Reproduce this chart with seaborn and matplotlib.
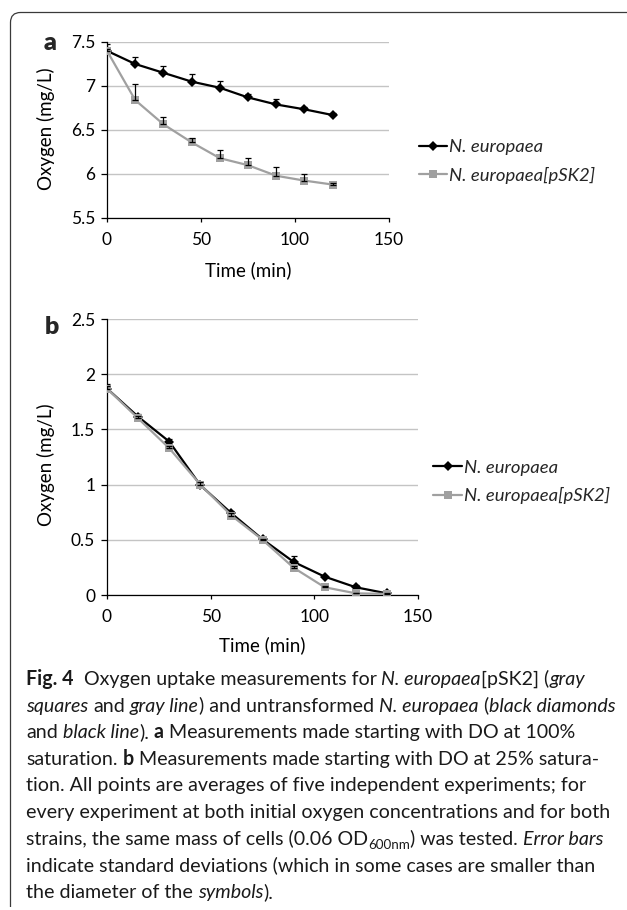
import matplotlib
matplotlib.use("Agg")
import numpy as np
import pandas as pd
import seaborn as sns
import matplotlib.pyplot as plt
from matplotlib.path import Path
from matplotlib.patches import PathPatch
from matplotlib.transforms import IdentityTransform
from matplotlib.ticker import FormatStrFormatter
from matplotlib.lines import Line2D

# ---------------- data ----------------
strains = ["N. europaea", "N. europaea[pSK2]"]

time_a = [0, 15, 30, 45, 60, 75, 90, 105, 120]
wt_a = [7.40, 7.25, 7.15, 7.05, 6.98, 6.87, 6.79, 6.735, 6.67]
wt_a_err = [0.08, 0.08, 0.08, 0.09, 0.08, 0.04, 0.06, 0.03, 0.02]
psk_a = [7.40, 6.84, 6.565, 6.36, 6.18, 6.10, 5.98, 5.925, 5.88]
psk_a_err = [0.02, 0.18, 0.08, 0.05, 0.09, 0.08, 0.10, 0.07, 0.02]

time_b = [0, 15, 30, 45, 60, 75, 90, 105, 120, 135]
wt_b = [1.87, 1.615, 1.39, 0.995, 0.74, 0.505, 0.30, 0.166, 0.07, 0.015]
wt_b_err = [0.04, 0.02, 0.02, 0.01, 0.02, 0.01, 0.05, 0.01, 0.025, 0.005]
psk_b = [1.87, 1.60, 1.33, 1.00, 0.72, 0.50, 0.247, 0.07, 0.015, 0.01]
psk_b_err = [0.02, 0.02, 0.02, 0.02, 0.02, 0.01, 0.02, 0.01, 0.005, 0.005]

xticks = [0, 50, 100, 150]
yticks_a = [5.5, 6, 6.5, 7, 7.5]
yticks_b = [0, 0.5, 1, 1.5, 2, 2.5]

caption_lines = [
    [("Fig. 4", "b"), ("  Oxygen uptake measurements for ", "r"), ("N. europaea", "i"), ("[pSK2] (", "r"), ("gray", "i")],
    [("squares", "i"), (" and ", "r"), ("gray line", "i"), (") and untransformed ", "r"), ("N. europaea", "i"), (" (", "r"), ("black diamonds", "i")],
    [("and ", "r"), ("black line", "i"), ("). ", "r"), ("a", "b"), (" Measurements made starting with DO at 100%", "r")],
    [("saturation. ", "r"), ("b", "b"), (" Measurements made starting with DO at 25% satura-", "r")],
    [("tion. All points are averages of five independent experiments; for", "r")],
    [("every experiment at both initial oxygen concentrations and for both", "r")],
    [("strains, the same mass of cells (0.06 OD", "r"), ("600nm", "s"), (") was tested. ", "r"), ("Error bars", "i")],
    [("indicate standard deviations (which in some cases are smaller than", "r")],
    [("the diameter of the ", "r"), ("symbols", "i"), (").", "r")],
]

# ---------------- style ----------------
sns.set_theme(style="white")
plt.rcParams["font.family"] = ["Lato", "DejaVu Sans"]

W, H = 627, 910
fig = plt.figure(figsize=(W / 100, H / 100), dpi=100)
fig.patch.set_facecolor("white")

colors = {strains[0]: "#000000", strains[1]: "#a0a0a0"}

TICK_FS = 12.5
LABEL_FS = 13.5
LEG_FS = 13.3


def fig_axes(left, top, right, bottom):
    return fig.add_axes([left / W, 1 - bottom / H, (right - left) / W, (bottom - top) / H])


def panel(ax, t, wt, wt_err, psk, psk_err, yticks, ylab_y, ylab_x):
    df = pd.DataFrame({
        "time": list(t) + list(t),
        "oxygen": list(wt) + list(psk),
        "strain": [strains[0]] * len(t) + [strains[1]] * len(t),
    })
    ax.set_axisbelow(True)
    ax.yaxis.grid(True, color="#c4c4c4", lw=1.0)
    ax.xaxis.grid(False)
    sns.lineplot(data=df[df.strain == strains[0]], x="time", y="oxygen", color=colors[strains[0]],
                 marker="D", markersize=5, markeredgewidth=0, linewidth=1.6, ax=ax, legend=False,
                 zorder=3)
    ax.errorbar(t, wt, yerr=[np.zeros(len(wt)), wt_err], fmt="none", ecolor="black",
                elinewidth=0.9, capsize=2.5, capthick=0.9, zorder=3.5)
    sns.lineplot(data=df[df.strain == strains[1]], x="time", y="oxygen", color=colors[strains[1]],
                 marker="s", markersize=5.5, markeredgewidth=0, linewidth=1.6, ax=ax, legend=False,
                 zorder=4)
    ax.errorbar(t, psk, yerr=[np.zeros(len(psk)), psk_err], fmt="none", ecolor="black",
                elinewidth=0.9, capsize=2.5, capthick=0.9, zorder=4.5)

    ax.set_xlim(0, 150)
    ax.set_ylim(yticks[0], yticks[-1])
    ax.set_xticks(xticks)
    ax.set_yticks(yticks)
    ax.yaxis.set_major_formatter(FormatStrFormatter("%g"))
    for s in ["top", "right"]:
        ax.spines[s].set_visible(False)
    for s in ["left", "bottom"]:
        ax.spines[s].set_color("black")
        ax.spines[s].set_linewidth(0.9)
    ax.tick_params(axis="x", bottom=True, direction="out", length=3, width=0.9, color="black",
                   labelsize=TICK_FS, pad=7, labelcolor="black")
    ax.tick_params(axis="y", left=True, direction="out", length=4.5, width=0.9, color="black",
                   labelsize=TICK_FS, pad=4, labelcolor="black")
    ax.set_xlabel("Time (min)", fontsize=LABEL_FS, color="black")
    ax.set_ylabel("Oxygen (mg/L)", fontsize=LABEL_FS, color="black")
    ax.yaxis.set_label_coords(ylab_x, ylab_y)
    ax.yaxis.label.set_va("center")
    ax.yaxis.label.set_ha("center")


ax_a = fig_axes(107, 42, 389, 218)
panel(ax_a, time_a, wt_a, wt_a_err, psk_a, psk_a_err, yticks_a, (218 - 128.5) / 176, (46 - 107) / 282)
ax_a.xaxis.set_label_coords(0.5, -(270 - 218) / 176)
ax_a.xaxis.label.set_va("center")

ax_b = fig_axes(107, 319, 418, 595)
panel(ax_b, time_b, wt_b, wt_b_err, psk_b, psk_b_err, yticks_b, (595 - 465) / 276, (46 - 107) / 311)
ax_b.xaxis.set_label_coords(0.5, -(645 - 595) / 276)
ax_b.xaxis.label.set_va("center")

# legends
handles = [Line2D([], [], color=colors[strains[0]], marker="D", markersize=5, markeredgewidth=0, lw=1.6),
           Line2D([], [], color=colors[strains[1]], marker="s", markersize=5.5, markeredgewidth=0, lw=1.6)]
leg_px = LEG_FS * 100 / 72
for ax, (lx, ly, hl) in [(ax_a, (419, 161.5, 28)), (ax_b, (433, 482, 29))]:
    ax.legend(handles, strains, loc="center left", bbox_to_anchor=(lx / W, 1 - ly / H),
              bbox_transform=fig.transFigure, frameon=False, borderpad=0, borderaxespad=0,
              handlelength=hl / leg_px, handletextpad=2 / leg_px, labelspacing=0.62,
              prop={"style": "italic", "size": LEG_FS, "family": ["Lato", "DejaVu Sans"]})

# panel letters
fig.text(50 / W, 1 - 43 / H, "a", fontsize=18, fontweight="heavy", ha="center", va="center")
fig.text(52 / W, 1 - 327 / H, "b", fontsize=18, fontweight="heavy", ha="center", va="center")

# frame (rounded top-left corner, top and left edges)
r = 10
x0, y0 = 10.5, H - 12.5
verts = [(x0, 3), (x0, y0 - r), (x0, y0), (x0 + r, y0), (W + 2, y0)]
codes = [Path.MOVETO, Path.LINETO, Path.CURVE3, Path.CURVE3, Path.LINETO]
fig.patches.append(PathPatch(Path(verts, codes), transform=IdentityTransform(), fill=False,
                             edgecolor="#3a3a3a", lw=0.9))

# caption
renderer = fig.canvas.get_renderer()


def style_kw(st, size):
    kw = {"fontsize": size, "family": ["Lato", "DejaVu Sans"], "color": "#1a1a1a"}
    if st == "b":
        kw["fontweight"] = "bold"
    elif st == "i":
        kw["fontstyle"] = "italic"
    elif st == "s":
        kw["fontsize"] = size * 0.68
    return kw


def width(s, kw):
    if not s:
        return 0.0
    t = fig.text(0, 0, s, transform=IdentityTransform(), **kw)
    w = t.get_window_extent(renderer).width
    t.remove()
    return w


def space_w(kw):
    return width("x x", kw) - width("xx", kw)


def line_width(segs, size):
    total = 0.0
    for s, st in segs:
        kw = style_kw(st, size)
        lead = len(s) - len(s.lstrip(" "))
        trail = len(s) - len(s.rstrip(" "))
        total += (lead + trail) * space_w(kw) + width(s.strip(" "), kw)
    return total


base = 10.0
target = 590.0
cap_size = base * target / line_width(caption_lines[1], base)

x_left = 26
baseline0 = 685
step = 26.6
for i, segs in enumerate(caption_lines):
    x = x_left
    yb = H - (baseline0 + i * step)
    for s, st in segs:
        kw = style_kw(st, cap_size)
        lead = len(s) - len(s.lstrip(" "))
        trail = len(s) - len(s.rstrip(" "))
        sw = space_w(kw)
        x += lead * sw
        core = s.strip(" ")
        yy = yb - 4 if st == "s" else yb
        fig.text(x, yy, core, transform=IdentityTransform(), va="baseline", ha="left", **kw)
        x += width(core, kw) + trail * sw

fig.savefig("out.png", dpi=100, facecolor="white")
